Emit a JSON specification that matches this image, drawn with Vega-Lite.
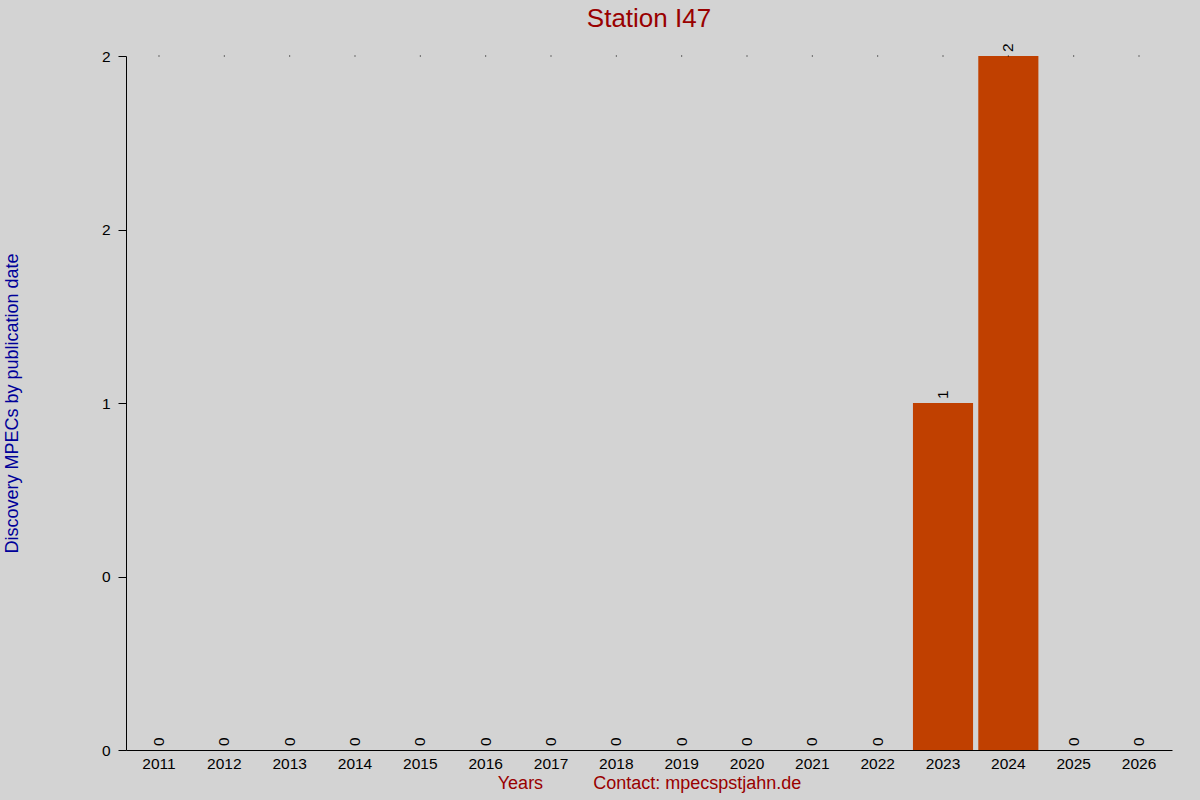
{
  "$schema": "https://vega.github.io/schema/vega-lite/v6.json",
  "background": "#d3d3d3",
  "autosize": "none",
  "padding": {"left": 126, "top": 56, "right": 28, "bottom": 50},
  "width": 1046,
  "height": 694,
  "title": {
    "text": "Station I47",
    "font": "Liberation Sans",
    "fontSize": 26,
    "fontWeight": "normal",
    "color": "#990000",
    "offset": 11
  },
  "config": {
    "view": {"stroke": null},
    "font": "Liberation Sans"
  },
  "data": {
    "values": [
      {"year": "2011", "count": 0},
      {"year": "2012", "count": 0},
      {"year": "2013", "count": 0},
      {"year": "2014", "count": 0},
      {"year": "2015", "count": 0},
      {"year": "2016", "count": 0},
      {"year": "2017", "count": 0},
      {"year": "2018", "count": 0},
      {"year": "2019", "count": 0},
      {"year": "2020", "count": 0},
      {"year": "2021", "count": 0},
      {"year": "2022", "count": 0},
      {"year": "2023", "count": 1},
      {"year": "2024", "count": 2},
      {"year": "2025", "count": 0},
      {"year": "2026", "count": 0}
    ]
  },
  "encoding": {
    "x": {
      "field": "year",
      "type": "ordinal",
      "scale": {"paddingInner": 0.08, "paddingOuter": 0.045},
      "axis": {
        "title": "Years\u00a0\u00a0\u00a0\u00a0\u00a0\u00a0\u00a0\u00a0\u00a0\u00a0Contact: mpecspstjahn.de",
        "titleColor": "#990000",
        "titleFontSize": 18,
        "titleFontWeight": "normal",
        "titlePadding": 3,
        "labelAngle": 0,
        "labelFontSize": 15.5,
        "labelColor": "black",
        "labelPadding": 6,
        "ticks": false,
        "domainColor": "black"
      }
    }
  },
  "layer": [
    {
      "mark": {"type": "bar", "color": "#c04000"},
      "encoding": {
        "y": {
          "field": "count",
          "type": "quantitative",
          "scale": {"domain": [0, 2], "nice": false},
          "axis": {
            "title": "Discovery MPECs by publication date",
            "titleColor": "#000099",
            "titleFontSize": 18,
            "titleFontWeight": "normal",
            "titlePadding": 80,
            "values": [0, 0.5, 1, 1.5, 2],
            "labelExpr": "datum.value == 0.5 ? '0' : datum.value == 1.5 ? '2' : format(datum.value, 'd')",
            "labelFontSize": 15.5,
            "labelColor": "black",
            "labelPadding": 8,
            "tickColor": "black",
            "tickSize": 8,
            "domainColor": "black",
            "grid": false
          }
        }
      }
    },
    {
      "mark": {"type": "square", "size": 1, "color": "black", "opacity": 1},
      "encoding": {
        "y": {"datum": 2, "type": "quantitative"}
      }
    },
    {
      "mark": {
        "type": "text",
        "angle": 270,
        "align": "left",
        "baseline": "middle",
        "dx": 4,
        "fontSize": 15.5,
        "color": "black"
      },
      "encoding": {
        "y": {"field": "count", "type": "quantitative"},
        "text": {"field": "count", "type": "quantitative"}
      }
    }
  ]
}
